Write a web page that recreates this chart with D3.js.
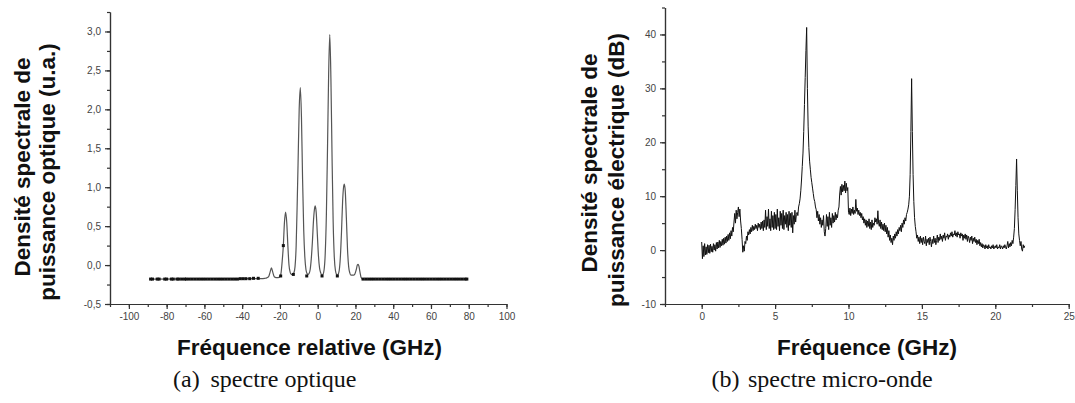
<!DOCTYPE html>
<html>
<head>
<meta charset="utf-8">
<script src="https://cdn.jsdelivr.net/npm/d3@7"></script>
<style>
  html, body { margin: 0; padding: 0; background: #fff; }
  svg { display: block; }
  .tick text { font-family: "Liberation Sans", Arial, sans-serif; font-size: 10px; fill: #444; }
  .axis path, .axis line { stroke: #333; stroke-width: 1.2; }
  .atitle { font-family: "Liberation Sans", Arial, sans-serif; font-weight: bold; font-size: 22.5px; fill: #111; }
  .caption { font-family: "Liberation Serif", "Times New Roman", serif; font-size: 24px; fill: #111; }
</style>
</head>
<body>
<svg id="chart" width="1075" height="403"></svg>
<script>
// ---------- (a) spectre optique ----------
const optXTicks = [-100, -80, -60, -40, -20, 0, 20, 40, 60, 80, 100];
const optYTicks = [-0.5, 0, 0.5, 1.0, 1.5, 2.0, 2.5, 3.0];
// smooth central spectrum [frequency GHz, density u.a.]
const optCurve = [
  [-88.5,-0.18],[-30,-0.175],[-28,-0.17],[-27,-0.165],[-26,-0.15],[-25.2,-0.09],[-24.5,-0.035],[-23.8,-0.09],[-23,-0.15],
  [-22,-0.16],[-21,-0.16],[-20,-0.15],[-19.4,-0.1],[-18.8,0.05],[-18.2,0.25],[-17.6,0.55],[-17.0,0.68],
  [-16.4,0.55],[-15.8,0.25],[-15.2,0.0],[-14.6,-0.09],[-14.0,-0.12],[-13.3,-0.12],[-12.6,-0.1],[-12.0,-0.02],
  [-11.4,0.25],[-10.8,0.85],[-10.4,1.3],[-9.8,2.0],[-9.2,2.28],[-8.6,1.9],[-8.0,1.1],[-7.4,0.45],[-6.8,0.1],
  [-6.2,-0.06],[-5.6,-0.11],[-5.2,-0.12],[-4.6,-0.11],[-4.0,-0.06],[-3.4,0.08],[-2.8,0.3],[-2.2,0.58],
  [-1.7,0.72],[-1.3,0.76],[-0.8,0.68],[-0.2,0.4],[0.4,0.12],[1.0,-0.04],[1.6,-0.1],[2.2,-0.13],[2.8,-0.12],
  [3.4,-0.06],[4.0,0.15],[4.6,0.65],[5.2,1.5],[5.8,2.45],[6.4,2.96],[7.0,2.4],[7.6,1.4],[8.2,0.55],[8.8,0.1],
  [9.4,-0.07],[10.0,-0.12],[10.4,-0.13],[10.8,-0.12],[11.4,-0.07],[12.0,0.1],[12.6,0.42],[13.2,0.82],
  [13.7,1.0],[14.1,1.04],[14.6,0.95],[15.2,0.6],[15.8,0.2],[16.4,-0.02],[17.0,-0.1],[17.6,-0.13],[18.2,-0.13],
  [19.0,-0.13],[19.6,-0.12],[20.4,-0.06],[21.0,0.0],[21.4,0.01],[21.8,-0.01],[22.4,-0.09],[23,-0.16],[24,-0.18],[79,-0.18]
];
// raw measurement markers [frequency GHz, density u.a.]
const optMarkers = [
  [-88.5,-0.18],[-87.5,-0.18],[-85,-0.18],[-84,-0.18],[-81,-0.18],[-80,-0.18],[-77.5,-0.18],[-76.5,-0.18],
  [-74.5,-0.18],[-73.5,-0.18],[-72,-0.18],[-70.5,-0.18],[-69.5,-0.18],[-68,-0.18],[-66.5,-0.18],[-65,-0.18],
  [-63.5,-0.18],[-62,-0.18],[-60.5,-0.18],[-59,-0.18],[-57.5,-0.18],[-56,-0.18],[-54.5,-0.18],[-53,-0.18],
  [-51.5,-0.18],[-50,-0.18],[-48.5,-0.18],[-47,-0.18],[-45.5,-0.18],[-44,-0.18],[-42.5,-0.18],[-41,-0.175],
  [-39.5,-0.175],[-38,-0.175],[-36,-0.175],[-34,-0.17],[-31.5,-0.17],
  [-19.6,-0.14],[-18.2,0.25],[-12.9,-0.12],[-5.8,-0.14],[2.3,-0.14],[10.4,-0.14],
  [24,-0.18],[25.5,-0.18],[27,-0.18],[28.5,-0.18],[30,-0.18],[31.5,-0.18],[33,-0.18],[34.5,-0.18],[36,-0.18],
  [37.5,-0.18],[39,-0.18],[40.5,-0.18],[42,-0.18],[43.5,-0.18],[45,-0.18],[46.5,-0.18],[48,-0.18],[49.5,-0.18],
  [51,-0.18],[52.5,-0.18],[54,-0.18],[55.5,-0.18],[57,-0.18],[58.5,-0.18],[60,-0.18],[61.5,-0.18],[63,-0.18],
  [64.5,-0.18],[66,-0.18],[67.5,-0.18],[69,-0.18],[70.5,-0.18],[72,-0.18],[73.5,-0.18],[75,-0.18],[76.5,-0.18],
  [78,-0.18],[79,-0.18]
];

// ---------- (b) spectre micro-onde ----------
const micXTicks = [0, 5, 10, 15, 20, 25];
const micYTicks = [-10, 0, 10, 20, 30, 40];
const micFreqStart = 0;     // GHz
const micFreqStep = 0.05;   // GHz between samples
const micDb = [
  1.5,-1.6,0.8,-1.2,1.2,-0.9,0.6,-0.8,1.0,-0.5,0.9,-0.6,1.1,-0.3,0.7,-0.4,1.2,0.0,1.0,-0.2,
  1.4,0.2,1.5,0.4,1.8,0.5,1.6,0.8,2.0,0.9,2.2,1.1,2.4,1.3,2.6,1.6,2.9,1.8,3.2,2.1,
  3.6,2.6,4.2,3.4,5.2,6.8,5.0,7.4,5.8,7.0,8.0,6.2,7.6,5.4,4.0,2.0,-0.4,0.8,-0.2,1.6,
  1.2,2.6,1.8,3.4,2.8,3.8,3.0,4.2,3.4,4.6,3.6,4.4,3.8,4.8,4.0,4.6,3.6,5.0,4.2,4.8,
  3.8,5.2,4.0,5.4,3.6,5.6,4.2,7.4,3.8,6.2,4.4,7.6,4.0,5.8,3.6,7.2,4.2,6.4,3.8,7.0,
  4.0,6.6,3.8,7.6,4.4,6.0,3.6,7.2,4.6,6.8,4.0,7.4,3.8,6.4,4.8,7.0,4.2,6.6,3.6,7.2,
  4.6,6.8,4.2,7.0,3.2,6.4,4.8,7.4,5.2,6.6,7.0,6.4,8.0,8.6,9.5,11.0,13.0,15.5,18.0,22.0,
  27.0,32.0,37.0,41.3,30.0,23.0,19.0,16.5,15.0,13.5,12.5,11.5,10.5,9.5,9.0,8.0,7.5,6.0,7.2,5.4,
  6.6,4.8,6.0,4.2,5.6,4.6,6.4,3.4,2.6,4.0,6.6,4.4,6.2,3.8,7.0,4.6,6.0,4.2,6.8,5.0,
  6.4,5.2,7.0,5.6,6.6,6.0,7.4,8.0,10.4,11.8,10.2,12.2,10.8,12.0,11.0,12.8,10.6,12.4,11.0,11.6,
  7.0,6.6,7.8,6.4,7.6,6.8,8.0,6.6,7.4,6.8,9.4,7.2,7.8,6.6,7.4,6.4,7.0,6.0,6.8,5.6,
  6.2,5.0,5.8,4.6,5.6,4.2,5.4,4.4,5.8,4.0,5.2,3.8,5.6,4.2,5.0,4.6,6.0,5.2,5.8,4.8,
  7.3,5.0,4.4,5.6,4.0,5.2,3.8,4.8,3.6,5.0,3.4,4.6,3.0,4.2,2.4,3.6,1.8,2.8,1.4,2.2,
  1.0,2.6,1.8,3.0,2.2,3.4,2.6,3.8,3.0,4.2,3.6,4.6,3.4,5.0,4.2,5.6,4.8,6.0,5.4,6.6,
  7.0,7.6,8.4,10.0,14.0,22.0,31.8,22.0,14.0,9.0,6.0,4.4,3.4,2.2,2.8,1.6,2.4,1.2,2.6,1.4,
  2.2,1.0,2.4,1.6,1.2,2.6,0.8,2.0,1.4,2.2,1.0,2.4,1.6,0.6,2.0,1.2,2.6,1.4,2.2,1.0,
  1.8,2.8,1.4,2.4,1.8,3.0,2.0,2.6,1.6,2.8,2.2,3.2,1.8,2.6,2.4,3.0,2.0,2.8,2.4,3.2,
  2.6,3.4,2.4,3.0,2.8,3.6,2.6,3.2,2.4,3.4,2.8,3.0,2.2,3.2,2.6,3.0,1.8,2.8,2.2,3.0,
  2.0,2.8,1.6,2.6,2.2,1.4,2.4,1.8,2.6,1.2,2.2,1.6,2.4,1.4,2.0,1.0,1.8,1.2,2.0,0.8,
  1.4,0.6,1.2,0.4,1.0,0.8,0.2,1.0,0.4,0.8,0.2,1.0,0.4,0.6,0.2,0.8,0.4,1.0,0.2,0.6,
  0.8,0.4,1.0,0.2,0.6,0.4,1.0,0.2,0.8,0.6,0.2,0.8,0.4,1.0,0.6,0.2,0.8,1.6,0.4,1.2,
  0.6,1.4,0.8,1.8,1.2,2.4,4.0,7.5,12.0,16.9,11.0,6.0,3.0,1.8,0.8,1.6,0.2,-0.2,1.0,0.4,
  0.8
];

const svg = d3.select("#chart");
svg.append("rect").attr("width", 1075).attr("height", 403).attr("fill", "#fff");

const loc = d3.formatLocale({decimal: ",", thousands: ".", grouping: [3], currency: ["", ""], minus: "-"});
const fmtComma = loc.format(".1f");
const fmtInt = loc.format("d");

function drawAxes(x, y, xTicks, xMinor, yTicks, yMinor, xFmt, yFmt) {
  const [x0] = x.range();
  const [y0] = y.range();
  svg.append("g").attr("class", "axis").attr("transform", `translate(0,${y0})`)
    .call(d3.axisBottom(x).tickValues(xMinor).tickSize(3).tickSizeOuter(0).tickFormat(""));
  svg.append("g").attr("class", "axis").attr("transform", `translate(${x0},0)`)
    .call(d3.axisLeft(y).tickValues(yMinor).tickSize(3).tickSizeOuter(0).tickFormat(""));
  svg.append("g").attr("class", "axis").attr("transform", `translate(0,${y0})`)
    .call(d3.axisBottom(x).tickValues(xTicks).tickSize(5).tickSizeOuter(0).tickPadding(4).tickFormat(xFmt));
  svg.append("g").attr("class", "axis").attr("transform", `translate(${x0},0)`)
    .call(d3.axisLeft(y).tickValues(yTicks).tickSize(5).tickSizeOuter(0).tickPadding(4).tickFormat(yFmt));
}

function title(x, y, rot, txt) {
  svg.append("text").attr("class", "atitle").attr("text-anchor", "middle")
    .attr("transform", `translate(${x},${y})` + (rot ? " rotate(-90)" : "")).text(txt);
}
function caption(x1, lab, x2, txt) {
  svg.append("text").attr("class", "caption").attr("x", x1).attr("y", 387).text(lab);
  svg.append("text").attr("class", "caption").attr("x", x2).attr("y", 387).text(txt);
}

// ---- chart (a) ----
const xa = d3.scaleLinear().domain([-110, 100]).range([110, 506.5]);
const ya = d3.scaleLinear().domain([-0.5, 3.25]).range([304, 12]);
drawAxes(xa, ya, optXTicks, d3.range(-110, 101, 10), optYTicks, d3.range(-0.5, 3.26, 0.25), fmtInt, fmtComma);

svg.append("path").datum(optCurve)
  .attr("fill", "none").attr("stroke", "#555").attr("stroke-width", 1.2)
  .attr("d", d3.line().x(d => xa(d[0])).y(d => ya(d[1])).curve(d3.curveMonotoneX));
svg.append("g").selectAll("rect").data(optMarkers).join("rect")
  .attr("x", d => xa(d[0]) - 1.5).attr("y", d => ya(d[1]) - 1.5)
  .attr("width", 3).attr("height", 3).attr("fill", "#111");

title(309.5, 355, false, "Fréquence relative (GHz)");
title(30, 167, true, "Densité spectrale de");
title(55, 172, true, "puissance optique (u.a.)");
caption(173, "(a)", 210.5, "spectre optique");

// ---- chart (b) ----
const xb = d3.scaleLinear().domain([-2.5, 25]).range([665, 1068.7]);
const yb = d3.scaleLinear().domain([-10, 45]).range([304, 7.5]);
drawAxes(xb, yb, micXTicks, d3.range(-2.5, 25.1, 2.5), micYTicks, d3.range(-10, 45.1, 5), fmtInt, fmtInt);

svg.append("path").datum(micDb)
  .attr("fill", "none").attr("stroke", "#111").attr("stroke-width", 1)
  .attr("d", d3.line().x((d, i) => xb(micFreqStart + i * micFreqStep)).y(d => yb(d)));

title(867, 355, false, "Fréquence (GHz)");
title(596.5, 163, true, "Densité spectrale de");
title(623.5, 170, true, "puissance électrique (dB)");
caption(711.5, "(b)", 748, "spectre micro-onde");
</script>
</body>
</html>
